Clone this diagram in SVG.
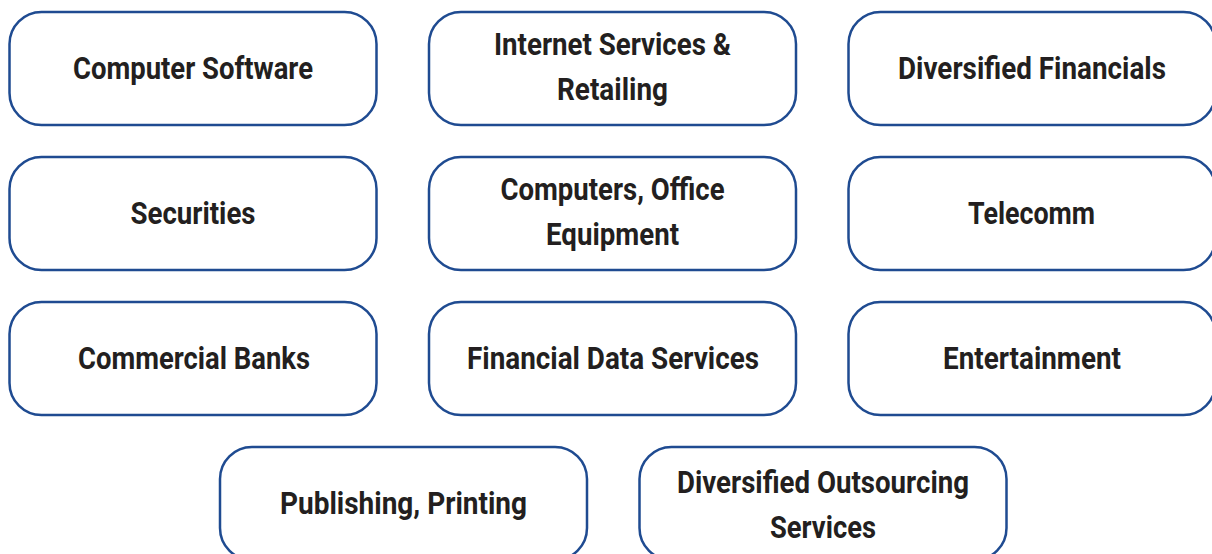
<svg xmlns="http://www.w3.org/2000/svg" width="1212" height="554" viewBox="0 0 1212 554">
  <defs>
    <style>
      .box { fill: #ffffff; stroke: #1f4b91; stroke-width: 2.5; }
      .lbl { font-family: Roboto, "Liberation Sans", sans-serif; font-weight: 700; font-size: 31px; fill: #231f20; text-anchor: middle; }
    </style>
  </defs>
  <rect width="1212" height="554" fill="#ffffff"/>

  <!-- row 1 -->
  <g id="computer-software">
    <rect class="box" x="9.5" y="12" width="367" height="113" rx="32"/>
    <text class="lbl" x="193" y="79" textLength="240" lengthAdjust="spacingAndGlyphs">Computer Software</text>
  </g>
  <g id="internet-services">
    <rect class="box" x="429" y="12" width="367" height="113" rx="32"/>
    <text class="lbl" x="612.5" y="55" textLength="237" lengthAdjust="spacingAndGlyphs">Internet Services &amp;</text>
    <text class="lbl" x="612.5" y="100" textLength="111" lengthAdjust="spacingAndGlyphs">Retailing</text>
  </g>
  <g id="diversified-financials">
    <rect class="box" x="848.5" y="12" width="367" height="113" rx="32"/>
    <text class="lbl" x="1032" y="79" textLength="268" lengthAdjust="spacingAndGlyphs">Diversified Financials</text>
  </g>

  <!-- row 2 -->
  <g id="securities">
    <rect class="box" x="9.5" y="157" width="367" height="113" rx="32"/>
    <text class="lbl" x="193" y="224" textLength="125" lengthAdjust="spacingAndGlyphs">Securities</text>
  </g>
  <g id="computers-office-equipment">
    <rect class="box" x="429" y="157" width="367" height="113" rx="32"/>
    <text class="lbl" x="612.5" y="200" textLength="224" lengthAdjust="spacingAndGlyphs">Computers, Office</text>
    <text class="lbl" x="612.5" y="245" textLength="133" lengthAdjust="spacingAndGlyphs">Equipment</text>
  </g>
  <g id="telecomm">
    <rect class="box" x="848.5" y="157" width="367" height="113" rx="32"/>
    <text class="lbl" x="1031.5" y="224" textLength="127" lengthAdjust="spacingAndGlyphs">Telecomm</text>
  </g>

  <!-- row 3 -->
  <g id="commercial-banks">
    <rect class="box" x="9.5" y="302" width="367" height="113" rx="32"/>
    <text class="lbl" x="194" y="369" textLength="232" lengthAdjust="spacingAndGlyphs">Commercial Banks</text>
  </g>
  <g id="financial-data-services">
    <rect class="box" x="429" y="302" width="367" height="113" rx="32"/>
    <text class="lbl" x="613" y="369" textLength="292" lengthAdjust="spacingAndGlyphs">Financial Data Services</text>
  </g>
  <g id="entertainment">
    <rect class="box" x="848.5" y="302" width="367" height="113" rx="32"/>
    <text class="lbl" x="1032" y="369" textLength="178" lengthAdjust="spacingAndGlyphs">Entertainment</text>
  </g>

  <!-- row 4 -->
  <g id="publishing-printing">
    <rect class="box" x="220" y="447" width="367" height="113" rx="32"/>
    <text class="lbl" x="403.5" y="514" textLength="247" lengthAdjust="spacingAndGlyphs">Publishing, Printing</text>
  </g>
  <g id="diversified-outsourcing">
    <rect class="box" x="639.5" y="447" width="367" height="113" rx="32"/>
    <text class="lbl" x="823" y="493" textLength="292" lengthAdjust="spacingAndGlyphs">Diversified Outsourcing</text>
    <text class="lbl" x="823" y="538" textLength="106" lengthAdjust="spacingAndGlyphs">Services</text>
  </g>

  <g id="connectors"/>
</svg>
